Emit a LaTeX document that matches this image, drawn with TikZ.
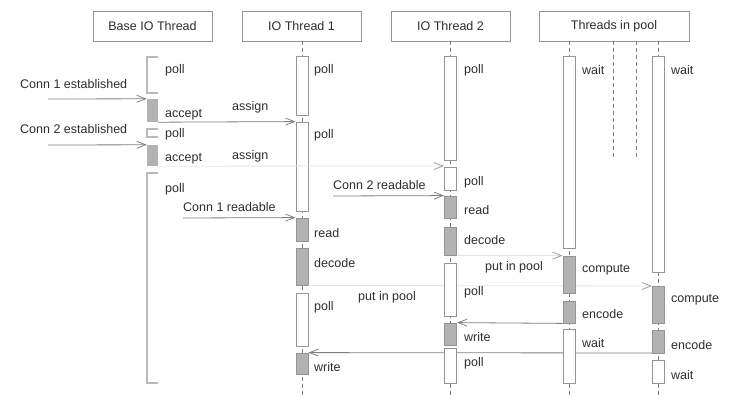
\documentclass[tikz,border=0pt]{standalone}
\usepackage{fontspec}
\setmainfont{Liberation Sans}
\usetikzlibrary{arrows.meta}
\definecolor{linec}{gray}{0.50}
\definecolor{boxc}{gray}{0.58}
\definecolor{busyc}{gray}{0.70}
\definecolor{txtc}{gray}{0.18}
\definecolor{faintc}{gray}{0.90}
\definecolor{fainttip}{gray}{0.62}
\newcommand{\actbox}[5]{\node[#5, minimum height={(#4)-(#3)}] (#1) at (#2,{((#3)+(#4))/2}) {};}
\begin{document}
\begin{tikzpicture}[x=1pt,y=-1pt,
  txt/.style={font=\fontsize{12.5}{14}\selectfont, text=txtc},
  hdr/.style={draw=boxc, fill=white, minimum height=30pt, inner sep=0pt, txt},
  idle/.style={draw=boxc, fill=white, minimum width=12pt, inner sep=0pt, line width=0.8pt},
  busy/.style={draw=boxc, fill=busyc, minimum width=12pt, inner sep=0pt, line width=0.8pt},
  lbl/.style={anchor=west, inner sep=0pt, txt},
  msg/.style={draw=linec, line width=0.8pt, -{Straight Barb[length=9pt,width=7pt]}},
  faint/.style={draw=faintc, line width=0.8pt, -{Straight Barb[length=9pt,width=7pt,color=fainttip]}},
  life/.style={draw=linec, line width=0.7pt, dash pattern=on 4pt off 3pt},
  brk/.style={draw=gray!55, line width=1.3pt}]
\useasboundingbox (0,0) rectangle (733,406);
% headers
\node[hdr, minimum width=119pt] (hbase) at (152.5,26) {Base IO Thread};
\node[hdr, minimum width=119pt] (hio1) at (301.5,26) {IO Thread 1};
\node[hdr, minimum width=119pt] (hio2) at (450.5,26) {IO Thread 2};
\node[hdr, minimum width=150pt] (hpool) at (614,26) {Threads in pool};
% lifelines
\coordinate (e1) at (302,397);
\coordinate (e2) at (450.5,397);
\coordinate (ea) at (569,397);
\coordinate (eb) at (658,397);
\coordinate (e3) at (613,158);
\coordinate (e4) at (636,158);
\draw[life] (hio1.south -| e1) -- (e1);
\draw[life] (hio2.south -| e2) -- (e2);
\draw[life] (hpool.south -| ea) -- (ea);
\draw[life] (hpool.south -| eb) -- (eb);
\draw[life] (hpool.south -| e3) -- (e3);
\draw[life] (hpool.south -| e4) -- (e4);
% message start points
\coordinate (c1s) at (48,99);
\coordinate (c2s) at (48,145);
\coordinate (c1r) at (183,218);
\coordinate (c2r) at (333,196);
% base IO thread
\draw[brk] (158,57) -- (147,57) -- (147,93) -- (158,93);
\draw[brk] (158,129) -- (147,129) -- (147,137) -- (158,137);
\draw[brk] (158,173) -- (147,173) -- (147,383) -- (158,383);
\node[fill=busyc, minimum width=11pt, minimum height=23pt, inner sep=0pt] (acc1) at (152.5,110.5) {};
\node[fill=busyc, minimum width=11pt, minimum height=21pt, inner sep=0pt] (acc2) at (152.5,155.5) {};
% IO thread 1 boxes
\actbox{a1}{302}{56}{115}{idle}
\actbox{a2}{302}{122}{211}{idle}
\actbox{a3}{302}{218}{241}{busy}
\actbox{a4}{302}{248}{285}{busy}
\actbox{a5}{302}{293}{346}{idle}
\actbox{a6}{302}{353}{374}{busy}
% messages drawn under the boxes of thread 2 and pool
\draw[faint] (acc2.south east) -- (444,166);
\draw[faint] (a4.south east) -- (652,286);
\draw[msg] (652,353) -- (a6.north east);
% IO thread 2 boxes
\actbox{b1}{450.5}{56}{160}{idle}
\actbox{b2}{450.5}{167}{190}{idle}
\actbox{b3}{450.5}{196}{218}{busy}
\actbox{b4}{450.5}{227}{255}{busy}
\actbox{b5}{450.5}{263}{316}{idle}
\actbox{b6}{450.5}{323}{345}{busy}
\actbox{b7}{450.5}{348}{383}{idle}
% pool thread A
\actbox{p1}{569}{56}{248}{idle}
\actbox{p2}{569}{256}{293}{busy}
\actbox{p3}{569}{301}{323}{busy}
\actbox{p4}{569}{329}{383}{idle}
% pool thread B
\actbox{q1}{658}{56}{272}{idle}
\actbox{q2}{658}{286}{323}{busy}
\actbox{q3}{658}{330}{353}{busy}
\actbox{q4}{658}{360}{383}{idle}
% messages
\draw[msg] (c1s) -- (acc1.north west);
\draw[msg] (acc1.south east) -- (a2.north west);
\draw[msg] (c2s) -- (acc2.north west);
\draw[msg] (c1r) -- (a3.north west);
\draw[msg] (c2r) -- (b3.north west);
\draw[faint] (b4.south east) -- (p2.north west);
\draw[msg] (p3.south west) -- (b6.north east);
% labels
\node[lbl] (t1) at (20,84) {Conn 1 established};
\node[lbl] (t2) at (20,129) {Conn 2 established};
\node[lbl] (t3) at (165,70) {poll};
\node[lbl] (t4) at (165,115) {accept};
\node[lbl] (t5) at (165,134) {poll};
\node[lbl] (t6) at (165,159) {accept};
\node[lbl] (t7) at (165,189) {poll};
\node[lbl] (t8) at (232,107) {assign};
\node[lbl] (t9) at (232,156) {assign};
\node[lbl] (t10) at (183,207) {Conn 1 readable};
\node[lbl] (t11) at (333,185) {Conn 2 readable};
\node[lbl] (t12) at (314,70) {poll};
\node[lbl] (t13) at (314,135) {poll};
\node[lbl] (t14) at (314,233) {read};
\node[lbl] (t15) at (314,263) {decode};
\node[lbl] (t16) at (314,307) {poll};
\node[lbl] (t17) at (314,367) {write};
\node[lbl] (t18) at (358,297) {put in pool};
\node[lbl] (t19) at (464,70) {poll};
\node[lbl] (t20) at (464,182) {poll};
\node[lbl] (t21) at (464,210) {read};
\node[lbl] (t22) at (464,240) {decode};
\node[lbl] (t23) at (464,292) {poll};
\node[lbl] (t24) at (464,337) {write};
\node[lbl] (t25) at (464,363) {poll};
\node[lbl] (t26) at (485,267) {put in pool};
\node[lbl] (t27) at (582,70) {wait};
\node[lbl] (t28) at (582,270) {compute};
\node[lbl] (t29) at (582,314) {encode};
\node[lbl] (t30) at (582,343) {wait};
\node[lbl] (t31) at (671,70) {wait};
\node[lbl] (t32) at (671,300) {compute};
\node[lbl] (t33) at (671,345) {encode};
\node[lbl] (t34) at (671,375) {wait};
\end{tikzpicture}
\end{document}
